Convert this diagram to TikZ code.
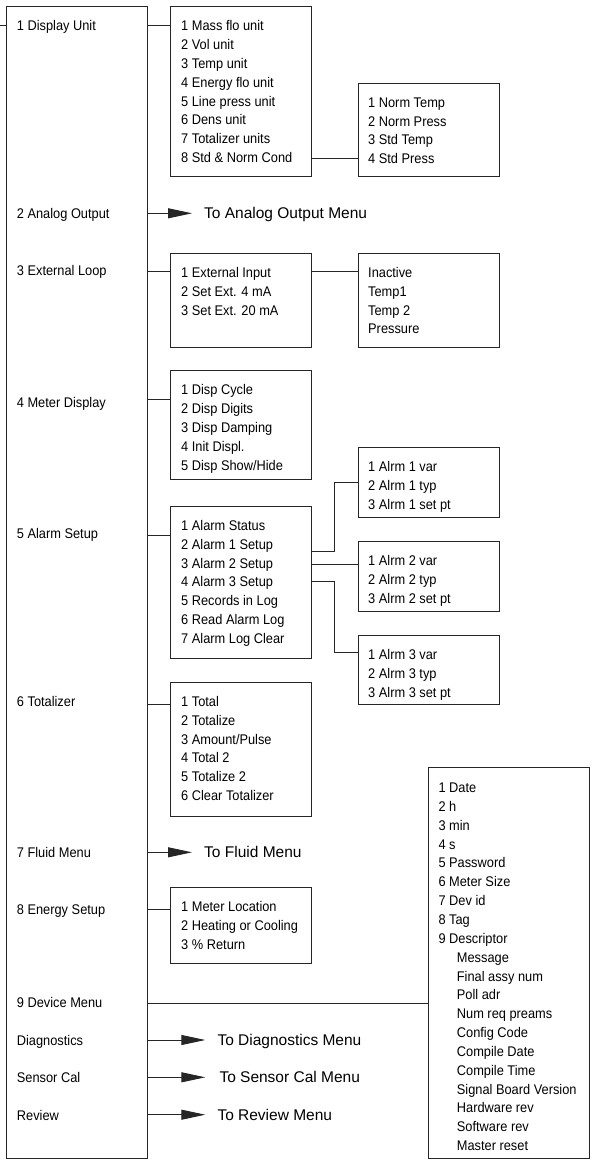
\documentclass[tikz,border=0pt]{standalone}
\usepackage{fontspec}
\setmainfont{Liberation Sans}
\newfontfamily\menufont[FakeStretch=0.915]{Liberation Sans}
\usetikzlibrary{arrows.meta}
\begin{document}
\begin{tikzpicture}[x=1pt,y=-1pt,
  frame/.style={draw=black!85, line width=0.9pt, inner sep=0pt, anchor=north west},
  link/.style={draw=black!85, line width=0.9pt},
  goto/.style={link, -{Triangle[length=24pt,width=10pt]}, shorten >=12pt},
  item/.style={anchor=base west, inner sep=0pt, font={\menufont\fontsize{14}{18.85}\selectfont}},
  list/.style={anchor=north west, inner sep=0pt, xshift=11pt, yshift=-11.3pt, font={\menufont\fontsize{14}{18.85}\selectfont}},
  dest/.style={anchor=west, inner sep=0pt, text height=11.1pt, text depth=0pt, font={\fontsize{15.5}{18}\selectfont}},
]
\useasboundingbox (0,0) rectangle (592,1169);

% main box
\node[frame, minimum width=140.5pt, minimum height=1151.5pt] (main) at (6,6) {};
\node[item] (m1) at (16.7,30.7) {1 Display Unit};
\node[item] (m2) at (16.7,218.3) {2 Analog Output};
\node[item] (m3) at (16.7,275) {3 External Loop};
\node[item] (m4) at (16.7,407.3) {4 Meter Display};
\node[item] (m5) at (16.7,538.3) {5 Alarm Setup};
\node[item] (m6) at (16.7,706.7) {6 Totalizer};
\node[item] (m7) at (16.7,857.3) {7 Fluid Menu};
\node[item] (m8) at (16.7,914.3) {8 Energy Setup};
\node[item] (m9) at (16.7,1007.7) {9 Device Menu};
\node[item] (m10) at (16.7,1045) {Diagnostics};
\node[item] (m11) at (16.7,1082.3) {Sensor Cal};
\node[item] (m12) at (16.7,1120) {Review};

% sub boxes
\node[frame, minimum width=141pt, minimum height=170pt] (bDisp) at (170,6) {};
\node[list] (bDispT) at (bDisp.north west) {\begin{tabular}{@{}l@{}}1 Mass flo unit\\2 Vol unit\\3 Temp unit\\4 Energy flo unit\\5 Line press unit\\6 Dens unit\\7 Totalizer units\\8 Std \& Norm Cond\end{tabular}};

\node[frame, minimum width=141pt, minimum height=93pt] (bNorm) at (358,83) {};
\node[list, xshift=-1pt, yshift=0.5pt] (bNormT) at (bNorm.north west) {\begin{tabular}{@{}l@{}}1 Norm Temp\\2 Norm Press\\3 Std Temp\\4 Std Press\end{tabular}};

\node[frame, minimum width=141pt, minimum height=94pt] (bExt) at (170,252.7) {};
\node[list] (bExtT) at (bExt.north west) {\begin{tabular}{@{}l@{}}1 External Input\\2 Set Ext. 4 mA\\3 Set Ext. 20 mA\end{tabular}};

\node[frame, minimum width=141pt, minimum height=94pt] (bInp) at (358,252.7) {};
\node[list, xshift=-1pt] (bInpT) at (bInp.north west) {\begin{tabular}{@{}l@{}}Inactive\\Temp1\\Temp 2\\Pressure\end{tabular}};

\node[frame, minimum width=141pt, minimum height=109.3pt] (bMeter) at (170,370) {};
\node[list] (bMeterT) at (bMeter.north west) {\begin{tabular}{@{}l@{}}1 Disp Cycle\\2 Disp Digits\\3 Disp Damping\\4 Init Displ.\\5 Disp Show/Hide\end{tabular}};

\node[frame, minimum width=141pt, minimum height=152pt] (bAlarm) at (170,505.7) {};
\node[list] (bAlarmT) at (bAlarm.north west) {\begin{tabular}{@{}l@{}}1 Alarm Status\\2 Alarm 1 Setup\\3 Alarm 2 Setup\\4 Alarm 3 Setup\\5 Records in Log\\6 Read Alarm Log\\7 Alarm Log Clear\end{tabular}};

\node[frame, minimum width=141pt, minimum height=70pt] (bA1) at (358,446.7) {};
\node[list, xshift=-1pt] (bA1T) at (bA1.north west) {\begin{tabular}{@{}l@{}}1 Alrm 1 var\\2 Alrm 1 typ\\3 Alrm 1 set pt\end{tabular}};

\node[frame, minimum width=141pt, minimum height=70pt] (bA2) at (358,540.7) {};
\node[list, xshift=-1pt] (bA2T) at (bA2.north west) {\begin{tabular}{@{}l@{}}1 Alrm 2 var\\2 Alrm 2 typ\\3 Alrm 2 set pt\end{tabular}};

\node[frame, minimum width=141pt, minimum height=69.3pt] (bA3) at (358,635) {};
\node[list, xshift=-1pt] (bA3T) at (bA3.north west) {\begin{tabular}{@{}l@{}}1 Alrm 3 var\\2 Alrm 3 typ\\3 Alrm 3 set pt\end{tabular}};

\node[frame, minimum width=141pt, minimum height=134.3pt] (bTot) at (170,681.7) {};
\node[list] (bTotT) at (bTot.north west) {\begin{tabular}{@{}l@{}}1 Total\\2 Totalize\\3 Amount/Pulse\\4 Total 2\\5 Totalize 2\\6 Clear Totalizer\end{tabular}};

\node[frame, minimum width=141pt, minimum height=76.6pt] (bEnergy) at (170,886.7) {};
\node[list] (bEnergyT) at (bEnergy.north west) {\begin{tabular}{@{}l@{}}1 Meter Location\\2 Heating or Cooling\\3 \% Return\end{tabular}};

\node[frame, minimum width=161pt, minimum height=390.7pt] (bDev) at (428,767) {};
\node[list, xshift=-0.7pt, yshift=-0.8pt] (bDevT) at (bDev.north west) {\begin{tabular}{@{}l@{}}1 Date\\2 h\\3 min\\4 s\\5 Password\\6 Meter Size\\7 Dev id\\8 Tag\\9 Descriptor\\
\hspace*{18.4pt}Message\\\hspace*{18.4pt}Final assy num\\\hspace*{18.4pt}Poll adr\\\hspace*{18.4pt}Num req preams\\\hspace*{18.4pt}Config Code\\\hspace*{18.4pt}Compile Date\\\hspace*{18.4pt}Compile Time\\\hspace*{18.4pt}Signal Board Version\\\hspace*{18.4pt}Hardware rev\\\hspace*{18.4pt}Software rev\\\hspace*{18.4pt}Master reset\end{tabular}};

% destination labels
\node[dest] (tAnalog) at (204,213.3) {To Analog Output Menu};
\node[dest] (tFluid) at (204,852.3) {To Fluid Menu};
\node[dest] (tDiag) at (217.3,1040) {To Diagnostics Menu};
\node[dest] (tSensor) at (219.3,1077.3) {To Sensor Cal Menu};
\node[dest] (tReview) at (217.3,1114.7) {To Review Menu};

% connectors
\coordinate (entry) at (0,25);
\draw[link] (entry) -- (main.west |- entry);
\draw[link] (main.east |- 0,25) -- (bDisp.west |- 0,25);
\draw[link] (bDisp.east |- 0,158) -- (bNorm.west |- 0,158);
\draw[link] (main.east |- 0,271.7) -- (bExt.west |- 0,271.7);
\draw[link] (bExt.east |- 0,271) -- (bInp.west |- 0,271);
\draw[link] (main.east |- 0,399.3) -- (bMeter.west |- 0,399.3);
\draw[link] (main.east |- 0,535) -- (bAlarm.west |- 0,535);
\draw[link] (bAlarm.east |- 0,551.7) -- (334.3,551.7) |- (bA1.west |- 0,482.3);
\draw[link] (bAlarm.east |- 0,564) -- (bA2.west |- 0,564);
\draw[link] (bAlarm.east |- 0,581.7) -- (334.3,581.7) |- (bA3.west |- 0,652.3);
\draw[link] (main.east |- 0,704) -- (bTot.west |- 0,704);
\draw[link] (main.east |- 0,909.3) -- (bEnergy.west |- 0,909.3);
\draw[link] (main.east |- 0,1003.3) -- (bDev.west |- 0,1003.3);

\draw[goto] (main.east |- tAnalog.west) -- (tAnalog.west);
\draw[goto] (main.east |- tFluid.west) -- (tFluid.west);
\draw[goto] (main.east |- tDiag.west) -- (tDiag.west);
\draw[goto, shorten >=14pt] (main.east |- tSensor.west) -- (tSensor.west);
\draw[goto] (main.east |- tReview.west) -- (tReview.west);
\end{tikzpicture}
\end{document}
